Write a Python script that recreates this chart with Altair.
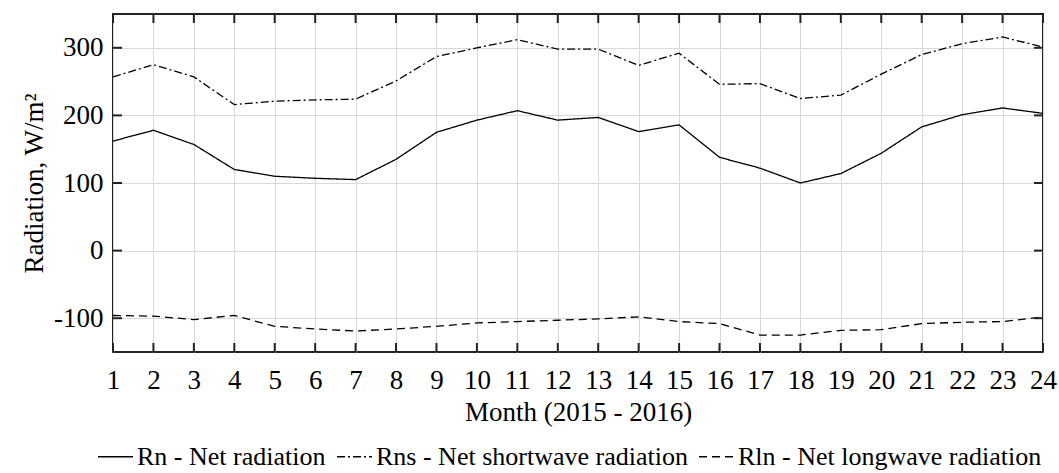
import altair as alt
import pandas as pd

months = list(range(1, 25))
rn = [162, 178, 157, 120, 110, 107, 105, 135, 175, 193, 207, 193,
      197, 176, 186, 138, 122, 100, 114, 144, 183, 201, 211, 203]
rns = [257, 275, 257, 216, 221, 223, 224, 251, 287, 300, 312, 298,
       298, 274, 292, 246, 247, 225, 230, 261, 290, 306, 316, 301]
rln = [-96, -97, -102, -96, -112, -116, -119, -116, -112, -107, -105, -103,
       -101, -98, -105, -108, -125, -125, -118, -117, -108, -106, -105, -98]
y_ticks = [-100, 0, 100, 200, 300]
x_range = [1, 24]
y_range = [-150, 350]

names = ["Rn - Net radiation", "Rns - Net shortwave radiation", "Rln - Net longwave radiation"]
dashes = [[1, 0], [8, 3, 2, 3], [8, 5]]

rows = []
for name, vals in zip(names, [rn, rns, rln]):
    for m, v in zip(months, vals):
        rows.append({"month": m, "value": v, "series": name})
df = pd.DataFrame(rows)
mdf = pd.DataFrame({"month": months})
ydf = pd.DataFrame({"v": y_ticks})

FONT = "Liberation Serif"
W, H = 930, 338
TICK = 9

xscale = alt.Scale(domain=x_range, nice=False, zero=False)
yscale = alt.Scale(domain=y_range, nice=False, zero=False)

lines = alt.Chart(df).mark_line(color="black", strokeWidth=1.3).encode(
    x=alt.X("month:Q", scale=xscale,
            axis=alt.Axis(values=months, labelExpr="'' + datum.value", title="Month (2015 - 2016)",
                          grid=True, gridColor="#d9d9d9", gridWidth=1, gridOpacity=1,
                          domain=False, ticks=False, tickSize=0, labelPadding=15,
                          labelFont=FONT, labelFontSize=27, labelColor="black",
                          titleFont=FONT, titleFontSize=27, titleFontWeight="normal",
                          titleColor="black", titleY=68, titleBaseline="alphabetic",
                          labelFlush=False, labelOverlap=False)),
    y=alt.Y("value:Q", scale=yscale,
            axis=alt.Axis(values=y_ticks, labelExpr="'' + datum.value", title="Radiation, W/m²",
                          grid=True, gridColor="#d9d9d9", gridWidth=1, gridOpacity=1,
                          domain=False, ticks=False, tickSize=0, labelPadding=10,
                          labelFont=FONT, labelFontSize=27, labelColor="black",
                          titleFont=FONT, titleFontSize=27, titleFontWeight="normal",
                          titleColor="black", titleX=-71, titleY=H / 2,
                          titleBaseline="alphabetic", titleAlign="center",
                          labelFlush=False, labelOverlap=False)),
    strokeDash=alt.StrokeDash("series:N", scale=alt.Scale(domain=names, range=dashes),
                              sort=names,
                              legend=alt.Legend(title=None, orient="none", legendX=-16, legendY=424,
                                                direction="horizontal", columns=3,
                                                symbolType="stroke", symbolSize=1225,
                                                symbolStrokeColor="black", symbolStrokeWidth=1.5,
                                                labelFont=FONT, labelFontSize=26, labelColor="black",
                                                labelOffset=3, columnPadding=8, padding=0,
                                                labelLimit=0)),
    detail="series:N",
)

tick_style = dict(color="#222", strokeWidth=2)
bottom_ticks = alt.Chart(mdf).mark_rule(**tick_style).encode(
    x=alt.X("month:Q", scale=xscale), y=alt.value(H), y2=alt.value(H - TICK))
top_ticks = alt.Chart(mdf).mark_rule(**tick_style).encode(
    x=alt.X("month:Q", scale=xscale), y=alt.value(0), y2=alt.value(TICK))
left_ticks = alt.Chart(ydf).mark_rule(**tick_style).encode(
    y=alt.Y("v:Q", scale=yscale), x=alt.value(0), x2=alt.value(TICK))
right_ticks = alt.Chart(ydf).mark_rule(**tick_style).encode(
    y=alt.Y("v:Q", scale=yscale), x=alt.value(W), x2=alt.value(W - TICK))

chart = alt.layer(lines, bottom_ticks, top_ticks, left_ticks, right_ticks).properties(
    width=W, height=H,
    autosize=alt.AutoSizeParams(type="none"),
    padding={"left": 113, "top": 14, "right": 16, "bottom": 121},
    background="white",
).configure_view(stroke="#222", strokeWidth=2)

chart.save("out.html", embed_options={"renderer": "svg", "actions": False})
